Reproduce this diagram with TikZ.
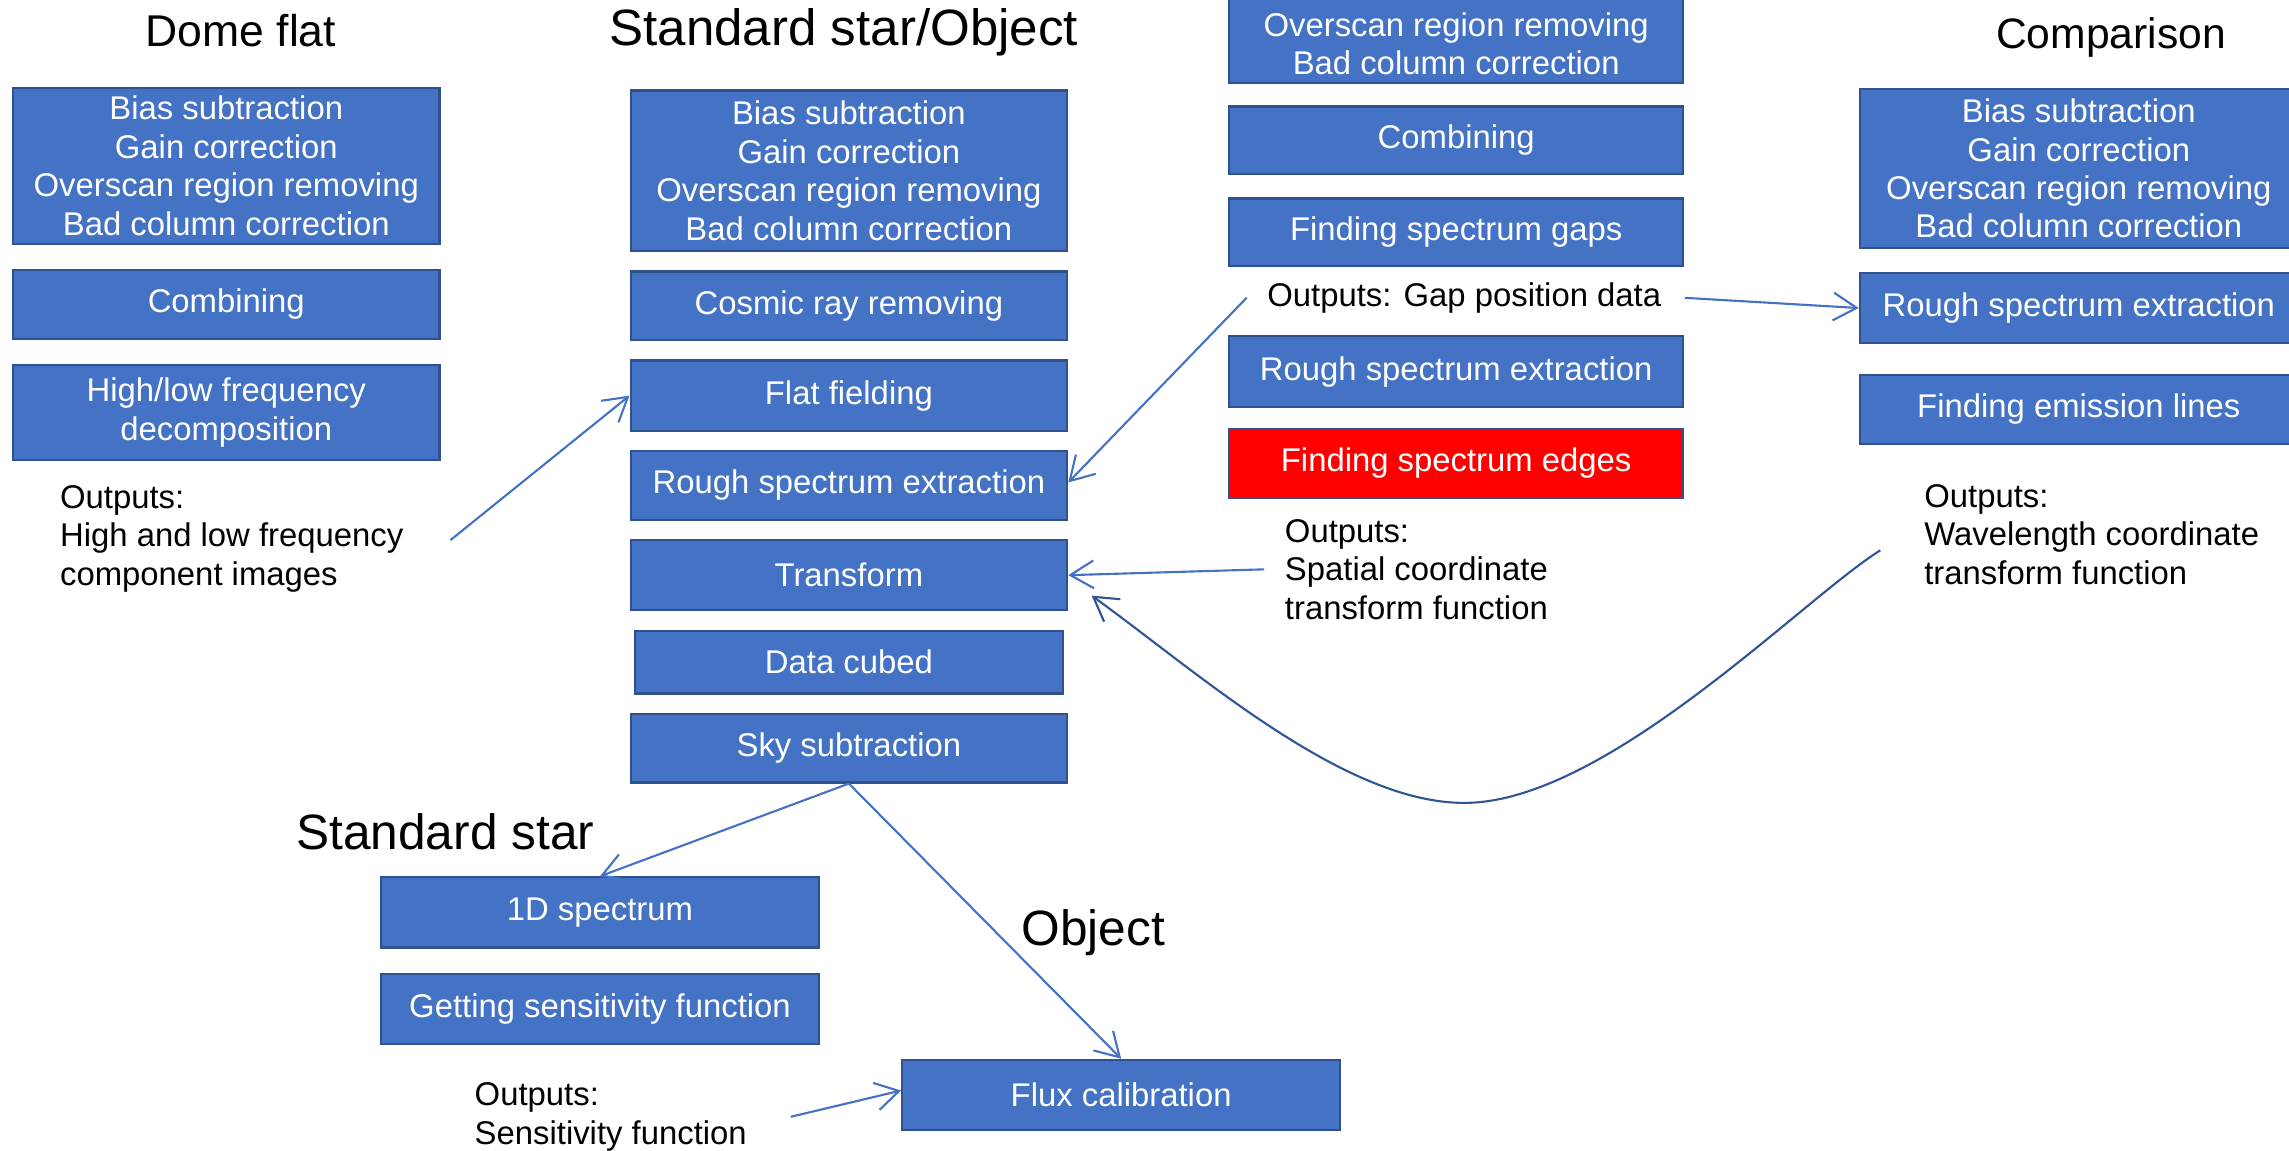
\documentclass[tikz,border=0pt]{standalone}
\usepackage{fontspec}
\setmainfont{Liberation Sans}
\usetikzlibrary{arrows.meta}
\definecolor{boxblue}{HTML}{4472C4}
\definecolor{boxline}{HTML}{2F528F}
\definecolor{arrowblue}{HTML}{4472C4}
\definecolor{curveblue}{HTML}{2F5597}
\definecolor{redfill}{HTML}{FF0000}
\begin{document}
\begin{tikzpicture}[x=1pt,y=-1pt,
 box/.style={draw=boxline, fill=boxblue, line width=1.5pt, text=white, inner sep=0pt, align=center, font=\fontsize{22.5}{26.3}\selectfont},
 redbox/.style={box, fill=redfill},
 outtext/.style={anchor=west, align=left, inner sep=0pt, text=black, font=\fontsize{22.5}{26.3}\selectfont},
 title/.style={anchor=base, inner sep=0pt, text=black},
 conn/.style={draw=arrowblue, line width=1.45pt, -{Straight Barb[length=16pt,width=19pt,line width=1.45pt]}},
 curveconn/.style={draw=curveblue, line width=1.45pt, -{Straight Barb[length=16pt,width=19pt,line width=1.45pt]}},
]
\clip (0,0) rectangle (1568,788);

% titles
\node[title, font=\fontsize{30.5}{36}\selectfont] (tdome) at (165,32) {Dome flat};
\node[title, font=\fontsize{35}{42}\selectfont] (tso) at (578,31) {Standard star/Object};
\node[title, font=\fontsize{29.2}{35}\selectfont] (tcomp) at (1446,33) {Comparison};
\node[title, font=\fontsize{34}{40}\selectfont] (tstd) at (305,582) {Standard star};
\node[title, font=\fontsize{34}{40}\selectfont] (tobj) at (749,648) {Object};

% Dome flat column
\node[box, minimum width=292pt, minimum height=107pt] (df1) at (155,113.5) {Bias subtraction\\Gain correction\\Overscan region removing\\Bad column correction};
\node[box, minimum width=292pt, minimum height=47pt] (df2) at (155,208.5) {Combining};
\node[box, minimum width=292pt, minimum height=65pt] (df3) at (155,282.5) {High/low frequency\\decomposition};
\node[outtext] (dfout) at (41,369) {Outputs:\\High and low frequency\\component images};

% Standard star / Object column
\node[box, minimum width=299pt, minimum height=110pt] (so1) at (581.5,117) {Bias subtraction\\Gain correction\\Overscan region removing\\Bad column correction};
\node[box, minimum width=299pt, minimum height=47pt] (so2) at (581.5,209.5) {Cosmic ray removing};
\node[box, minimum width=299pt, minimum height=48pt] (so3) at (581.5,271) {Flat fielding};
\node[box, minimum width=299pt, minimum height=47pt] (so4) at (581.5,332.5) {Rough spectrum extraction};
\node[box, minimum width=299pt, minimum height=48pt] (so5) at (581.5,394) {Transform};
\node[box, minimum width=293pt, minimum height=43pt] (so6) at (581.5,453.5) {Data cubed};
\node[box, minimum width=299pt, minimum height=47pt] (so7) at (581.5,512.5) {Sky subtraction};

% middle column (flat/trace)
\node[box, minimum width=311pt, minimum height=66pt] (c1) at (997.5,24) {};
\node[inner sep=0pt, align=center, text=white, font=\fontsize{22.5}{26.3}\selectfont] (c1t) at (997.5,30) {Overscan region removing\\Bad column correction};
\node[box, minimum width=311pt, minimum height=46pt] (c2) at (997.5,96) {Combining};
\node[box, minimum width=311pt, minimum height=46pt] (c3) at (997.5,159) {Finding spectrum gaps};
\node[inner sep=0pt, text=black, font=\fontsize{22.5}{26.3}\selectfont] (gapout) at (1003,204) {Outputs: Gap position data};
\node[box, minimum width=311pt, minimum height=49pt] (c4) at (997.5,254.5) {Rough spectrum extraction};
\node[redbox, minimum width=311pt, minimum height=47pt] (c5) at (997.5,317.5) {Finding spectrum edges};
\node[outtext] (spout) at (880,390) {Outputs:\\Spatial coordinate\\transform function};

% Comparison column
\node[box, minimum width=300pt, minimum height=109pt] (cp1) at (1424,115.5) {Bias subtraction\\Gain correction\\Overscan region removing\\Bad column correction};
\node[box, minimum width=300pt, minimum height=48pt] (cp2) at (1424,211) {Rough spectrum extraction};
\node[box, minimum width=300pt, minimum height=47pt] (cp3) at (1424,280.5) {Finding emission lines};
\node[outtext] (wlout) at (1318,366) {Outputs:\\Wavelength coordinate\\transform function};

% bottom
\node[box, minimum width=300pt, minimum height=48pt] (b1) at (411,625) {1D spectrum};
\node[box, minimum width=300pt, minimum height=48pt] (b2) at (411,691) {Getting sensitivity function};
\node[box, minimum width=300pt, minimum height=48pt] (b3) at (768,750) {Flux calibration};
\node[outtext] (sensout) at (325,765) {Outputs:\\Sensitivity function};

% connectors
\draw[conn] ([xshift=32pt,yshift=-1pt]dfout.east) -- (so3.west);
\draw[conn] ([xshift=-14pt]gapout.west) -- ([yshift=2pt]so4.east);
\draw[conn] ([xshift=16pt]gapout.east) -- (cp2.west);
\draw[conn] ([xshift=-14pt]spout.west) -- (so5.east);
\coordinate (cvs) at ([xshift=-30pt,yshift=-11pt]wlout.west);
\coordinate (cvm) at (1003,550);
\coordinate (cve) at ([xshift=16pt,yshift=-14pt]so5.east);
\draw[curveconn] (cvs) .. controls (1235,410) and (1100,550) .. (cvm) .. controls (920,550) and (820,460) .. (cve);
\draw[conn] (so7.south) -- (b1.north);
\draw[conn] (so7.south) -- (b3.north);
\draw[conn] ([xshift=30pt]sensout.east) -- ([yshift=3pt]b3.west);
\end{tikzpicture}
\end{document}
